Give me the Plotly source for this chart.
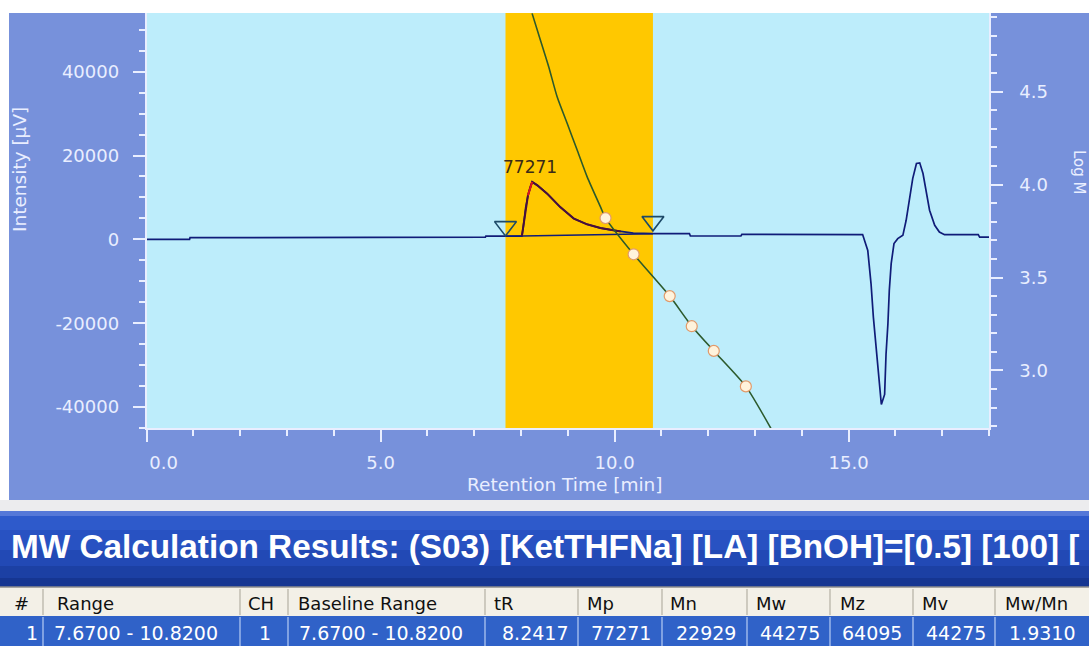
import plotly.graph_objects as go

W, H = 1089, 646

# ---------------- data ----------------
t_chrom = [0.0, 0.92, 0.93, 6.60, 6.62, 7.24, 7.25, 8.02, 8.05, 8.10, 8.15, 8.20, 8.24,
           8.35, 8.56, 8.84, 9.13, 9.41, 9.70, 9.98, 10.13, 10.40, 10.82, 11.60, 11.62,
           12.70, 12.72, 15.30, 15.41, 15.48, 15.53, 15.59, 15.64, 15.70, 15.77, 15.80,
           15.84, 15.87, 15.91, 15.97, 16.05, 16.16, 16.23, 16.30, 16.37, 16.45, 16.52,
           16.59, 16.66, 16.73, 16.84, 16.94, 17.05, 17.77, 17.80, 18.00]
i_chrom = [0, 0, 400, 400, 550, 550, 750, 750, 3000, 7500, 10500, 12500, 13700,
           12900, 10900, 7700, 4950, 3590, 2700, 2150, 1900, 1500, 1350, 1350, 800,
           800, 1200, 1150, -2630, -10600, -18600, -26600, -33400, -39400, -37000, -27400,
           -20200, -12200, -5800, -1000, 170, 960, 4550, 9330, 14500, 18100, 18250,
           15700, 10900, 6940, 3350, 1750, 1120, 1120, 550, 550]

peak_range = [7.67, 10.82]          # integration range (min)
baseline_i = [750, 1350]            # baseline intensity at range ends
triangle_i = [3100, 4300]           # baseline markers
peak_tR, peak_top, peak_label = 8.24, 13700, "77271"

# calibration curve (log M vs retention time)
t_cal = [8.238, 8.415, 8.593, 8.773, 8.987, 9.201, 9.415, 9.700, 9.807, 10.407,
         11.178, 11.649, 12.12, 12.805, 13.34]
logm_cal = [4.922, 4.779, 4.635, 4.473, 4.330, 4.186, 4.042, 3.880, 3.820, 3.625,
            3.400, 3.238, 3.105, 2.914, 2.688]
t_std = [9.807, 10.407, 11.178, 11.649, 12.12, 12.805]
logm_std = [3.820, 3.625, 3.400, 3.238, 3.105, 2.914]

# axis ticks
x_ticks = [0, 5, 10, 15]
x_ticktext = ["\u2007\u2007\u20070.0", "5.0", "10.0", "15.0"]
y_ticks = [-40000, -20000, 0, 20000, 40000]
y_ticktext = ["-40000", "-20000", "0", "20000", "40000"]
y2_ticks = [3.0, 3.5, 4.0, 4.5]
y2_ticktext = ["3.0", "3.5", "4.0", "4.5"]

# results table
table_cols = ["#", "Range", "CH", "Baseline Range", "tR", "Mp", "Mn", "Mw", "Mz", "Mv", "Mw/Mn"]
table_row = ["1", "7.6700 - 10.8200", "1", "7.6700 - 10.8200", "8.2417", "77271",
             "22929", "44275", "64095", "44275", "1.9310"]
results_title = "MW Calculation Results: (S03) [KetTHFNa] [LA] [BnOH]=[0.5] [100] ["

# ---------------- styling ----------------
OUTER = "#7791db"
PLOTBG = "#bdedfb"
BAND = "#ffc800"
NAVY = "#101c78"
MAROON = "#4a0f3a"
GREEN = "#2c5a2c"
AXC = "#e9eeff"

def X(px):
    return px / W

def Y(py):
    return 1 - py / H

fig = go.Figure()

fig.add_trace(go.Scatter(x=t_chrom, y=i_chrom, mode="lines",
                         line=dict(color=NAVY, width=1.7),
                         hoverinfo="skip", showlegend=False))
fig.add_trace(go.Scatter(x=peak_range, y=baseline_i, mode="lines",
                         line=dict(color=NAVY, width=1.4), hoverinfo="skip", showlegend=False))
pk_t = [t for t in t_chrom if 8.0 <= t <= 10.2]
pk_i = [v for t, v in zip(t_chrom, i_chrom) if 8.0 <= t <= 10.2]
fig.add_trace(go.Scatter(x=pk_t, y=pk_i, mode="lines",
                         line=dict(color=MAROON, width=2), hoverinfo="skip", showlegend=False))
rd_t = [t for t in t_chrom if 8.15 <= t <= 8.24]
rd_i = [v for t, v in zip(t_chrom, i_chrom) if 8.15 <= t <= 8.24]
fig.add_trace(go.Scatter(x=rd_t, y=rd_i, mode="lines",
                         line=dict(color="#e01818", width=2), hoverinfo="skip", showlegend=False))
fig.add_trace(go.Scatter(x=peak_range, y=triangle_i, mode="markers",
                         marker=dict(symbol="triangle-down-open", size=19,
                                     color="#1d4a68", line=dict(width=1.6, color="#1d4a68")),
                         hoverinfo="skip", showlegend=False))

fig.add_trace(go.Scatter(x=t_cal, y=logm_cal, mode="lines", yaxis="y2",
                         line=dict(color=GREEN, width=1.6, shape="spline", smoothing=0.6),
                         hoverinfo="skip", showlegend=False))
fig.add_trace(go.Scatter(x=t_std, y=logm_std, mode="markers", yaxis="y2",
                         marker=dict(symbol="circle", size=11, color="#fff3dc",
                                     line=dict(color="#e29a6a", width=1.2)),
                         hoverinfo="skip", showlegend=False))

fig.add_annotation(x=peak_tR, y=peak_top, text=peak_label, showarrow=False,
                   yanchor="bottom", yshift=3, xshift=-2,
                   font=dict(family="DejaVu Sans", size=17, color="#3a2a18"))

fig.add_shape(type="rect", xref="x", yref="paper", x0=peak_range[0], x1=peak_range[1],
              y0=Y(428), y1=Y(13), fillcolor=BAND, line=dict(width=0), layer="below")

# ---- page decoration: white margins, lower panel, title bar, table ----
shapes = []
shapes.append(dict(type="rect", xref="paper", yref="paper", x0=0, x1=1, y0=Y(13), y1=1,
                   fillcolor="white", line=dict(width=0), layer="below"))
shapes.append(dict(type="rect", xref="paper", yref="paper", x0=0, x1=X(9), y0=0, y1=1,
                   fillcolor="white", line=dict(width=0), layer="below"))
shapes.append(dict(type="rect", xref="paper", yref="paper", x0=0, x1=1, y0=Y(512), y1=Y(500),
                   fillcolor="#ececee", line=dict(width=0), layer="below"))
grad = [(511, 516, "#5578d8"), (516, 530, "#2e5acb"), (530, 550, "#2852c2"),
        (550, 566, "#2249b5"), (566, 578, "#1c40a4"), (578, 587, "#163692")]
for a, b, c in grad:
    shapes.append(dict(type="rect", xref="paper", yref="paper", x0=0, x1=1, y0=Y(b), y1=Y(a),
                       fillcolor=c, line=dict(width=0), layer="below"))
shapes.append(dict(type="rect", xref="paper", yref="paper", x0=0, x1=1, y0=Y(616), y1=Y(587),
                   fillcolor="#f3f0e7", line=dict(width=0), layer="below"))
shapes.append(dict(type="rect", xref="paper", yref="paper", x0=0, x1=1, y0=0, y1=Y(616),
                   fillcolor="#3062c8", line=dict(width=0), layer="below"))
shapes.append(dict(type="line", xref="paper", yref="paper", x0=0, x1=1, y0=Y(587), y1=Y(587),
                   line=dict(color="#8c8c8c", width=1.5), layer="below"))
sep_px = [43, 240, 288, 485, 578, 662, 747, 830, 913, 995]
for s in sep_px:
    shapes.append(dict(type="line", xref="paper", yref="paper", x0=X(s), x1=X(s),
                       y0=Y(615), y1=Y(589), line=dict(color="#b4b0a4", width=1.2), layer="below"))
    shapes.append(dict(type="line", xref="paper", yref="paper", x0=X(s), x1=X(s),
                       y0=0, y1=Y(617), line=dict(color="#b8cdf4", width=1.2), layer="below"))
for sh in shapes:
    fig.add_shape(**sh)

fig.add_annotation(xref="paper", yref="paper", x=X(9), y=Y(546), text=results_title,
                   showarrow=False, xanchor="left", yanchor="middle",
                   font=dict(family="Liberation Sans", size=33.3, color="white", weight="bold"))

head_x = [12, 55, 246, 296, 492, 585, 668, 754, 838, 920, 1003]
for txt, hx in zip(table_cols, head_x):
    fig.add_annotation(xref="paper", yref="paper", x=X(hx), y=Y(603), text=txt,
                       showarrow=False, xanchor="left", yanchor="middle",
                       font=dict(family="DejaVu Sans", size=18, color="#101010"))
cell_pos = [(40, "right"), (52, "left"), (265, "center"), (297, "left"), (570, "right"),
            (653, "right"), (738, "right"), (822, "right"), (904, "right"), (988, "right"),
            (1077, "right")]
for txt, (cx, al) in zip(table_row, cell_pos):
    fig.add_annotation(xref="paper", yref="paper", x=X(cx), y=Y(633), text=txt,
                       showarrow=False, xanchor=al, yanchor="middle",
                       font=dict(family="DejaVu Sans", size=19, color="white"))

fig.add_annotation(xref="paper", yref="paper", x=X(20), y=Y(170), text="Intensity [µV]",
                   textangle=-90, showarrow=False, xanchor="center", yanchor="middle",
                   font=dict(family="DejaVu Sans", size=18.5, color=AXC))
fig.add_annotation(xref="paper", yref="paper", x=X(565), y=Y(484), text="Retention Time [min]",
                   showarrow=False, xanchor="center", yanchor="middle",
                   font=dict(family="DejaVu Sans", size=18.5, color=AXC))
fig.add_annotation(xref="paper", yref="paper", x=X(1079), y=Y(172), text="Log M",
                   textangle=90, showarrow=False, xanchor="center", yanchor="middle",
                   font=dict(family="DejaVu Sans", size=15, color=AXC))

tickfont = dict(family="DejaVu Sans", size=18, color=AXC)
common = dict(showgrid=False, zeroline=False, showline=True, linecolor=AXC, linewidth=1.5,
              ticks="outside", ticklen=12, tickcolor=AXC, tickwidth=1.5, tickfont=tickfont,
              automargin=False)
fig.update_layout(
    template="none",
    width=W, height=H, margin=dict(l=0, r=0, t=0, b=0, pad=0),
    paper_bgcolor=OUTER, plot_bgcolor=PLOTBG,
    xaxis=dict(domain=[X(146.5), X(989)], range=[0, 18], tickmode="array",
               tickvals=x_ticks, ticktext=x_ticktext, ticklabelstandoff=6,
               minor=dict(dtick=1, tick0=0, ticks="outside", ticklen=6, tickcolor=AXC,
                          tickwidth=1.5, showgrid=False), **common),
    yaxis=dict(domain=[Y(428), Y(13)], range=[-45000, 54000], tickmode="array",
               tickvals=y_ticks, ticktext=y_ticktext, ticklabelstandoff=10,
               minor=dict(dtick=5000, tick0=0, ticks="outside", ticklen=6, tickcolor=AXC,
                          tickwidth=1.5, showgrid=False), **common),
    yaxis2=dict(overlaying="y", side="right", range=[2.69, 4.924], tickmode="array",
                tickvals=y2_ticks, ticktext=y2_ticktext, ticklabelstandoff=13,
                minor=dict(dtick=0.1, tick0=3.0, ticks="outside", ticklen=6, tickcolor=AXC,
                           tickwidth=1.5, showgrid=False), **common),
    showlegend=False,
)

fig.write_html("out.html")
